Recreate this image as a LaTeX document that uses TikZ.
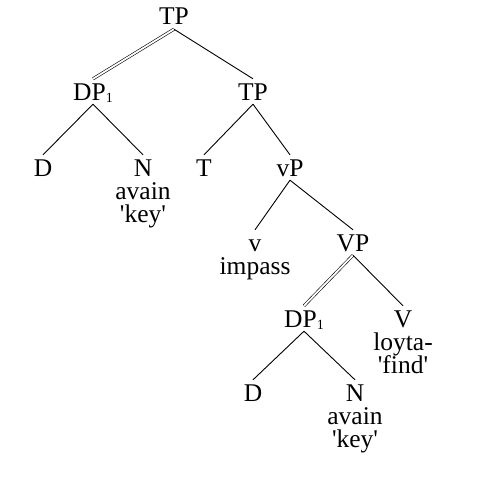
\documentclass[tikz,border=0pt]{standalone}
\usepackage{fontspec}
\setmainfont{Liberation Serif}
\usetikzlibrary{positioning}
\newcommand{\sq}{\textquotesingle}
\newcommand{\idx}[1]{\raisebox{-2.5pt}{\fontsize{14}{14}\selectfont #1}}
\tikzset{
  every picture/.append style={font=\fontsize{25.5}{23}\selectfont},
  cat/.style={inner xsep=1pt, inner ysep=4pt, text height=17pt, text depth=0pt, anchor=base},
  gls/.style={inner sep=0pt, anchor=base},
  br/.style={line width=0.9pt, draw=black},
  dbl/.style={line width=0.6pt, double, double distance=1.8pt, draw=black},
}
\begin{document}
\begin{tikzpicture}[x=1pt,y=1pt]
\useasboundingbox (0,0) rectangle (480,-495);

% ---------------- categories ----------------------------------------------------
\node[cat] (tp0) at (174,-25) {TP};
\node[cat] (dpa) at (93,-100) {DP\idx{1}};
\node[cat] (tp1) at (253,-100) {TP};
\node[cat] (da) at (43,-176) {D};
\node[cat] (na) at (143,-176) {N};
\node[cat] (t) at (204,-176) {T};
\node[cat] (vsp) at (290,-176) {vP};
\node[cat] (vs) at (255,-251) {v};
\node[cat] (vp) at (353,-251) {VP};
\node[cat] (dpb) at (304,-327) {DP\idx{1}};
\node[cat] (vb) at (403,-327) {V};
\node[cat] (db) at (253,-401) {D};
\node[cat] (nb) at (355,-401) {N};

% ---------------- words and glosses ---------------------------------------------
\node[gls] (naw) at (143,-199) {avain};
\node[gls] (nag) at (143,-222) {\sq key\sq};
\node[gls] (vsw) at (255,-274) {impass};
\node[gls] (vbw) at (403,-350) {loyta-};
\node[gls] (vbg) at (403,-373) {\sq find\sq};
\node[gls] (nbw) at (355,-424) {avain};
\node[gls] (nbg) at (355,-447) {\sq key\sq};

% ---------------- branches ------------------------------------------------------
\draw[dbl] (tp0.south) -- (dpa.north);
\draw[br] (tp0.south) -- (tp1.north);
\draw[br] (dpa.south) -- (da.north);
\draw[br] (dpa.south) -- (na.north);
\draw[br] (tp1.south) -- (t.north);
\draw[br] (tp1.south) -- (vsp.north);
\draw[br] (vsp.south) -- (vs.north);
\draw[br] (vsp.south) -- (vp.north);
\draw[dbl] (vp.south) -- (dpb.north);
\draw[br] (vp.south) -- (vb.north);
\draw[br] (dpb.south) -- (db.north);
\draw[br] (dpb.south) -- (nb.north);

\end{tikzpicture}
\end{document}
